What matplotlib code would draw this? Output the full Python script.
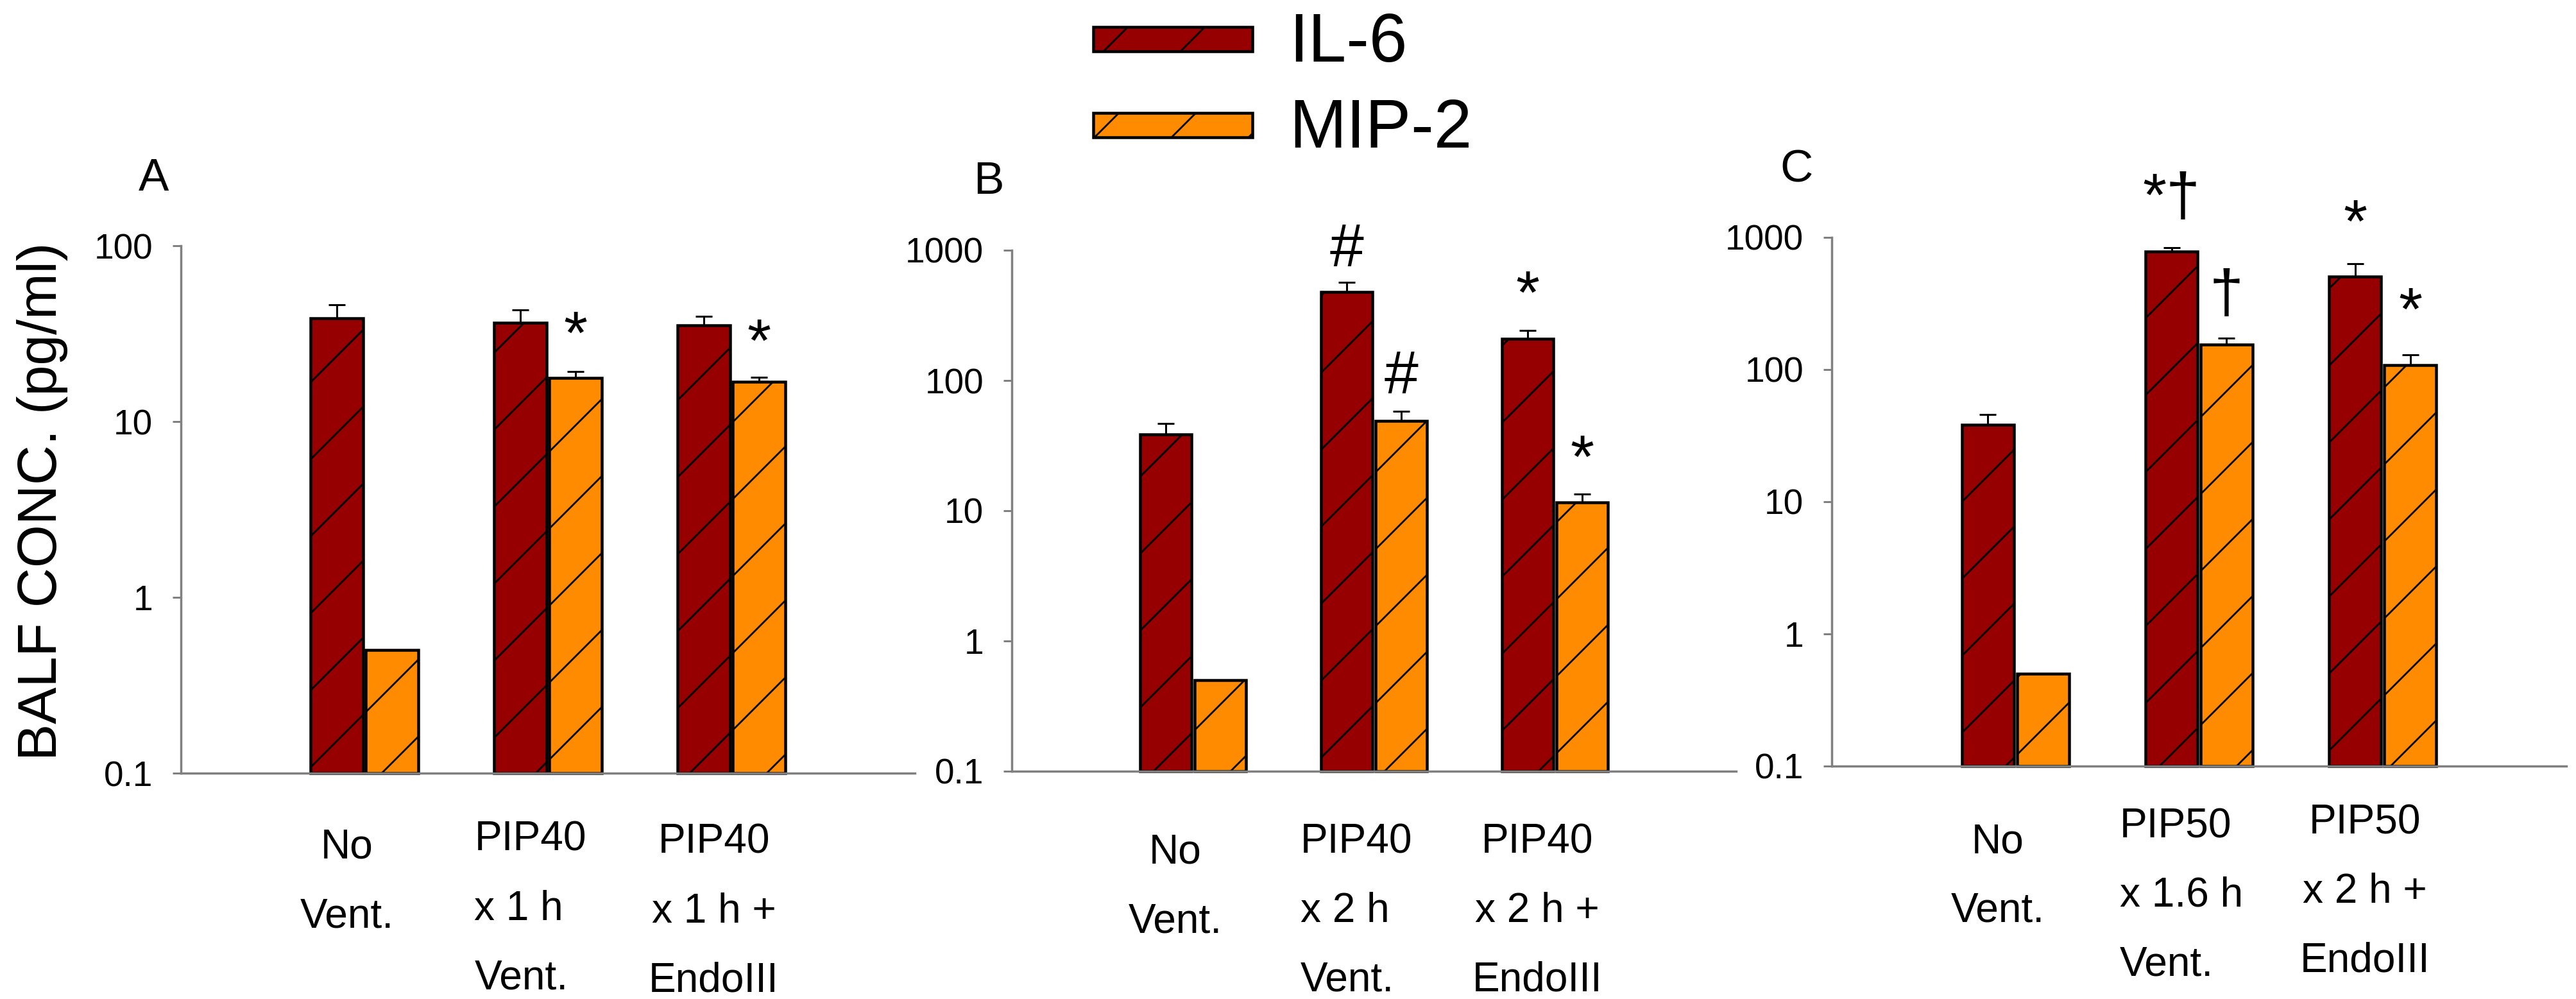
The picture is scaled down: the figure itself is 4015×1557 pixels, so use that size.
"""BALF IL-6 / MIP-2 concentrations, three ventilation protocols (panels A-C)."""

import matplotlib
import matplotlib.pyplot as plt
import matplotlib.transforms as mtransforms
import numpy as np
from matplotlib.patches import Rectangle
from matplotlib.ticker import FuncFormatter, LogLocator, NullLocator

matplotlib.use("Agg")

plt.rcParams["font.family"] = ["Liberation Sans", "DejaVu Sans"]
plt.rcParams["hatch.linewidth"] = 0.55

# ---- data (pg/ml) ----
GROUPS_A = ["No\nVent.", "PIP40\nx 1 h\nVent.", "PIP40\nx 1 h +\nEndoIII"]
GROUPS_B = ["No\nVent.", "PIP40\nx 2 h\nVent.", "PIP40\nx 2 h +\nEndoIII"]
GROUPS_C = ["No\nVent.", "PIP50\nx 1.6 h\nVent.", "PIP50\nx 2 h +\nEndoIII"]

IL6_A = [38.7, 36.5, 35.2]
IL6_ERR_A = [7.3, 6.5, 4.5]
MIP2_A = [0.5, 17.7, 16.8]
MIP2_ERR_A = [0.0, 1.5, 1.1]

IL6_B = [38.6, 478, 209]
IL6_ERR_B = [8.2, 89, 33]
MIP2_B = [0.5, 49, 11.6]
MIP2_ERR_B = [0.0, 9, 1.8]

IL6_C = [38.3, 782, 506]
IL6_ERR_C = [7.4, 54, 125]
MIP2_C = [0.5, 155, 108]
MIP2_ERR_C = [0.0, 18, 21]

# significance marks: (text, group index, series, baseline y)
MARKS_A = [("*", 1, "MIP-2", 24.5), ("*", 2, "MIP-2", 22.0)]
MARKS_B = [("#", 1, "IL-6", 753), ("#", 1, "MIP-2", 79.7),
           ("*", 2, "IL-6", 329), ("*", 2, "MIP-2", 18.0)]
MARKS_C = [("*\u2020", 1, "IL-6", 1462), ("\u2020", 1, "MIP-2", 270),
           ("*", 2, "IL-6", 925), ("*", 2, "MIP-2", 200)]

# gap (pt) between the x axis and the top of each group label
LABEL_GAP_A = [17.2, 14.8, 15.6]
LABEL_GAP_B = [19.4, 16.0, 16.0]
LABEL_GAP_C = [17.6, 12.8, 11.6]

SERIES = ["IL-6", "MIP-2"]
COLORS = {"IL-6": "#960000", "MIP-2": "#FF8C00"}
GRAY = "#808080"

W_PX, H_PX, DPI = 4015, 1557, 360
BAR_W = 0.284
OFFSET = 0.15
YMIN = 0.1


def draw_panel(ax, labels, il6, il6_err, mip2, mip2_err, marks, ymax, gaps):
    x = np.arange(len(labels))
    values = {"IL-6": np.array(il6), "MIP-2": np.array(mip2)}
    errors = {"IL-6": np.array(il6_err), "MIP-2": np.array(mip2_err)}
    shifts = {"IL-6": -OFFSET, "MIP-2": OFFSET}

    for name in SERIES:
        xs = x + shifts[name]
        ax.bar(xs, values[name] - YMIN, bottom=YMIN, width=BAR_W,
               color=COLORS[name], edgecolor="black", linewidth=0.9,
               hatch="/", clip_on=False, zorder=2)
        ax.errorbar(xs, values[name],
                    yerr=[np.zeros_like(errors[name]), errors[name]],
                    fmt="none", ecolor="black", elinewidth=0.6,
                    capsize=2.6, capthick=0.6, zorder=3, clip_on=False)

    for text, grp, name, y in marks:
        ax.text(x[grp] + shifts[name], y, text, ha="center", va="baseline",
                fontsize=19, color="black")

    ax.set_yscale("log")
    ax.set_ylim(YMIN, ymax)
    ax.set_xlim(-1, 3)
    ax.yaxis.set_major_locator(LogLocator(base=10))
    ax.yaxis.set_minor_locator(NullLocator())
    ax.yaxis.set_major_formatter(FuncFormatter(lambda v, _: f"{v:g}"))
    ax.set_xticks([])

    # group labels hang below the axis line
    base = mtransforms.blended_transform_factory(ax.transData, ax.transAxes)
    for i, lab in enumerate(labels):
        shift = mtransforms.ScaledTranslation(-5.5 / 72, -gaps[i] / 72,
                                              ax.figure.dpi_scale_trans)
        ax.text(x[i], 0, lab, transform=base + shift, fontsize=12.8,
                linespacing=2.02, ha="center", va="top",
                multialignment="left" if i == 1 else "center")

    ax.tick_params(axis="y", length=2.6, width=0.6, color=GRAY, pad=6.2,
                   labelsize=11)

    for side in ("top", "right"):
        ax.spines[side].set_visible(False)
    for side in ("left", "bottom"):
        ax.spines[side].set_color(GRAY)
        ax.spines[side].set_linewidth(0.7)


def fig_rect(x0, y0, x1, y1):
    """Pixel box (top-left origin) -> figure fraction [l, b, w, h]."""
    return [x0 / W_PX, 1 - y1 / H_PX, (x1 - x0) / W_PX, (y1 - y0) / H_PX]


fig = plt.figure(figsize=(W_PX / DPI, H_PX / DPI), dpi=DPI)

ax_a = fig.add_axes(fig_rect(282, 383, 1426, 1205))
ax_b = fig.add_axes(fig_rect(1577, 390, 2706, 1202))
ax_c = fig.add_axes(fig_rect(2855, 370, 4000, 1194))

draw_panel(ax_a, GROUPS_A, IL6_A, IL6_ERR_A, MIP2_A, MIP2_ERR_A, MARKS_A, 100, LABEL_GAP_A)
draw_panel(ax_b, GROUPS_B, IL6_B, IL6_ERR_B, MIP2_B, MIP2_ERR_B, MARKS_B, 1000, LABEL_GAP_B)
draw_panel(ax_c, GROUPS_C, IL6_C, IL6_ERR_C, MIP2_C, MIP2_ERR_C, MARKS_C, 1000, LABEL_GAP_C)

# panel letters
for letter, (px, py) in zip("ABC", [(216, 297), (1517, 302), (2774, 283)]):
    fig.text(px / W_PX, 1 - py / H_PX, letter, fontsize=14.2,
             ha="left", va="baseline")

fig.text(66 / W_PX, 1 - 781 / H_PX, "BALF CONC. (pg/ml)", rotation=90,
         fontsize=17.2, ha="center", va="center")

# legend, drawn by hand to sit above the middle panel
for name, (y0, y1, ybase) in zip(SERIES, [(42, 80, 96), (176, 214, 230)]):
    l, b, w, h = fig_rect(1704, y0, 1952, y1)
    fig.add_artist(Rectangle((l, b), w, h, transform=fig.transFigure,
                             facecolor=COLORS[name], edgecolor="black",
                             linewidth=0.9, hatch="/"))
    fig.text(2009 / W_PX, 1 - ybase / H_PX, name, fontsize=21.4,
             ha="left", va="baseline")

fig.savefig("out.png", dpi=DPI)
plt.close(fig)
